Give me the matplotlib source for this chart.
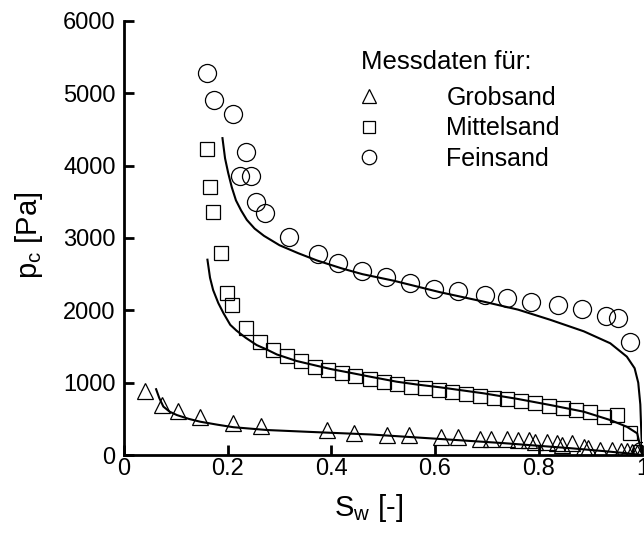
import numpy as np
import matplotlib
matplotlib.use('Agg')
import matplotlib.pyplot as plt

plt.rcParams['font.family'] = ['Liberation Sans', 'DejaVu Sans']

# measured data (S_w [-], p_c [Pa])
grob_sw = [0.040, 0.073, 0.105, 0.147, 0.211, 0.264, 0.391, 0.443, 0.507, 0.549,
           0.612, 0.644, 0.686, 0.708, 0.739, 0.761, 0.782, 0.793, 0.816, 0.835,
           0.845, 0.864, 0.887, 0.896, 0.919, 0.941, 0.958, 0.970, 0.980, 0.990, 0.997]
grob_pc = [880, 690, 610, 520, 440, 400, 345, 310, 280, 280,
           253, 245, 216, 216, 216, 207, 207, 184, 184, 161,
           138, 161, 115, 92, 69, 69, 55, 55, 46, 32, 20]

mittel_sw = [0.161, 0.166, 0.171, 0.187, 0.198, 0.208, 0.235, 0.262, 0.288, 0.315,
             0.341, 0.369, 0.394, 0.421, 0.446, 0.475, 0.501, 0.526, 0.553, 0.580,
             0.607, 0.632, 0.660, 0.686, 0.713, 0.739, 0.766, 0.792, 0.819, 0.846,
             0.872, 0.898, 0.925, 0.951, 0.977, 0.996]
mittel_pc = [4230, 3710, 3360, 2790, 2240, 2080, 1760, 1567, 1452, 1373,
             1300, 1213, 1176, 1130, 1097, 1058, 1012, 985, 945, 922,
             895, 876, 844, 820, 788, 770, 743, 723, 682, 650,
             622, 590, 521, 560, 300, 40]

fein_sw = [0.160, 0.174, 0.211, 0.236, 0.224, 0.245, 0.254, 0.272, 0.319, 0.375,
           0.412, 0.459, 0.505, 0.552, 0.598, 0.645, 0.697, 0.738, 0.786, 0.837,
           0.883, 0.930, 0.953, 0.976, 0.997]
fein_pc = [5280, 4910, 4716, 4190, 3850, 3850, 3495, 3343, 3010, 2780,
           2660, 2540, 2460, 2384, 2300, 2273, 2213, 2176, 2120, 2070,
           2015, 1927, 1890, 1558, 50]

# fitted curves
fit_grob_sw = [0.062, 0.068, 0.076, 0.088, 0.102, 0.125, 0.147, 0.180, 0.211, 0.276,
               0.359, 0.475, 0.604, 0.732, 0.861, 0.925, 0.970, 1.000]
fit_grob_pc = [910, 790, 670, 600, 553, 500, 461, 420, 385, 346,
               320, 285, 225, 165, 95, 55, 25, 0]

fit_mittel_sw = [0.161, 0.166, 0.172, 0.182, 0.192, 0.205, 0.217, 0.235, 0.256, 0.275,
                 0.295, 0.333, 0.398, 0.436, 0.475, 0.526, 0.565, 0.610, 0.694, 0.760,
                 0.822, 0.887, 0.938, 0.970, 0.990, 0.996, 1.000]
fit_mittel_pc = [2700, 2450, 2280, 2100, 1960, 1800, 1720, 1620, 1520, 1460,
                 1390, 1300, 1190, 1138, 1083, 1014, 975, 936, 853, 775,
                 692, 599, 484, 391, 300, 115, 0]

fit_fein_sw = [0.190, 0.195, 0.201, 0.208, 0.216, 0.226, 0.237, 0.252, 0.270, 0.300,
               0.336, 0.372, 0.420, 0.460, 0.520, 0.565, 0.610, 0.694, 0.760, 0.822,
               0.887, 0.938, 0.970, 0.985, 0.992, 0.996, 0.998, 1.000]
fit_fein_pc = [4380, 4100, 3900, 3700, 3520, 3380, 3250, 3130, 3030, 2900,
               2790, 2690, 2580, 2500, 2410, 2330, 2250, 2120, 2010, 1870,
               1710, 1545, 1360, 1200, 1000, 700, 300, 0]

labels = ['Grobsand', 'Mittelsand', 'Feinsand']

fig = plt.figure(figsize=(6.44, 5.36), dpi=100)
ax = fig.add_axes([0.1925, 0.151, 0.805, 0.81])

# fit curves
for sw, pc in [(fit_grob_sw, fit_grob_pc), (fit_mittel_sw, fit_mittel_pc), (fit_fein_sw, fit_fein_pc)]:
  ax.plot(sw, pc, color='black', lw=1.5, zorder=2)

# measurements
ax.plot(grob_sw, grob_pc, ls='none', marker='^', ms=12, mfc='none', mec='black', mew=0.9, label=labels[0], zorder=3)
ax.plot(mittel_sw, mittel_pc, ls='none', marker='s', ms=10, mfc='none', mec='black', mew=0.9, label=labels[1], zorder=3)
ax.plot(fein_sw, fein_pc, ls='none', marker='o', ms=13, mfc='none', mec='black', mew=0.9, label=labels[2], zorder=3)

ax.set_xlim(0, 1)
ax.set_ylim(0, 6000)
ax.set_xticks([0, 0.2, 0.4, 0.6, 0.8, 1.0])
ax.set_xticklabels(['0', '0.2', '0.4', '0.6', '0.8', '1'])
ax.set_yticks(range(0, 6001, 1000))

for side in ['top', 'right']:
  ax.spines[side].set_visible(False)
for side in ['left', 'bottom']:
  ax.spines[side].set_linewidth(2)

ax.tick_params(direction='in', length=7, width=2, labelsize=17)
ax.tick_params(axis='x', pad=2)
ax.tick_params(axis='y', pad=6)

ax.set_xlabel('S$_\\mathregular{w}$ [-]', fontsize=21)
ax.set_ylabel('p$_\\mathregular{c}$ [Pa]', fontsize=21)
ax.xaxis.set_label_coords(0.471, -0.085)
ax.yaxis.set_label_coords(-0.152, 0.507)

leg = ax.legend(title='Messdaten für:', loc='upper left', bbox_to_anchor=(0.458, 0.932),
                frameon=False, fontsize=18, title_fontsize=18.5, markerscale=0.8,
                handlelength=0.6, handletextpad=2.8, labelspacing=0.27,
                borderpad=0, borderaxespad=0)
leg._legend_box.align = 'left'
leg._legend_box.sep = 8

fig.savefig('out.png', dpi=100)
